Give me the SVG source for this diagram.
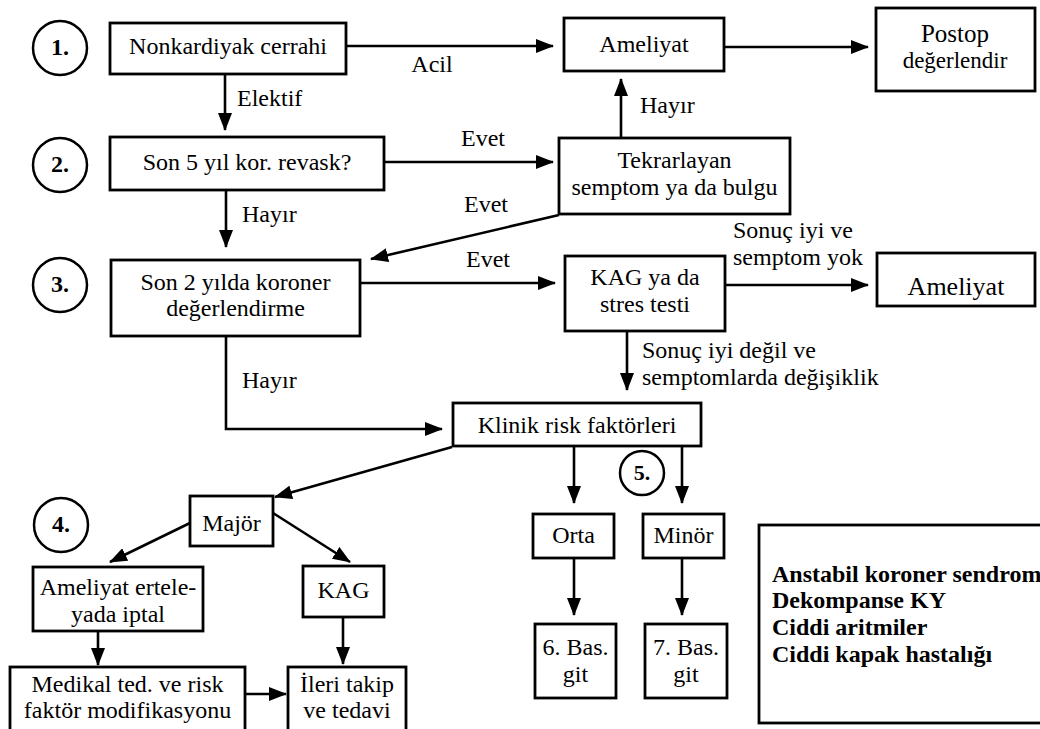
<svg xmlns="http://www.w3.org/2000/svg" width="1040" height="729" viewBox="0 0 1040 729">
<style>
text{font-family:'Liberation Serif','Tinos','Times New Roman',Times,'DejaVu Serif','Noto Serif',serif;font-size:24px;fill:#000}
.c{text-anchor:middle}
.b{font-weight:bold}
.box{fill:#fff;stroke:#000;stroke-width:2.8}
.circ{fill:none;stroke:#000;stroke-width:2.5}
.ln{fill:none;stroke:#000;stroke-width:2.6}
</style>
<defs>
<marker id="ah" markerUnits="userSpaceOnUse" markerWidth="20" markerHeight="14" refX="17" refY="7" orient="auto">
<path d="M0,0 L18,7 L0,14 z" fill="#000"/>
</marker>
</defs>
<rect width="1040" height="729" fill="#fff"/>

<g id="connectors" font-family="Liberation Serif, serif">
<line class="ln" x1="346" y1="46" x2="553" y2="46" marker-end="url(#ah)"/>
<text class="c" x="432" y="72">Acil</text>
<line class="ln" x1="225" y1="74" x2="225" y2="130" marker-end="url(#ah)"/>
<text x="237" y="106">Elektif</text>
<line class="ln" x1="724" y1="47" x2="868" y2="47" marker-end="url(#ah)"/>
<line class="ln" x1="384" y1="162" x2="553" y2="162" marker-end="url(#ah)"/>
<text class="c" x="483" y="146">Evet</text>
<line class="ln" x1="226" y1="190" x2="226" y2="247" marker-end="url(#ah)"/>
<text x="242" y="222">Hayır</text>
<line class="ln" x1="621" y1="138" x2="621" y2="79" marker-end="url(#ah)"/>
<text x="640" y="113">Hayır</text>
<line class="ln" x1="559" y1="215" x2="371" y2="259" marker-end="url(#ah)"/>
<text class="c" x="486" y="212">Evet</text>
<line class="ln" x1="360" y1="283" x2="555" y2="283" marker-end="url(#ah)"/>
<text class="c" x="488" y="267">Evet</text>
<line class="ln" x1="725" y1="285" x2="868" y2="285" marker-end="url(#ah)"/>
<text x="733" y="238">Sonuç iyi ve</text>
<text x="733" y="265">semptom yok</text>
<line class="ln" x1="627" y1="331" x2="627" y2="390" marker-end="url(#ah)"/>
<text x="642" y="358">Sonuç iyi değil ve</text>
<text x="642" y="385">semptomlarda değişiklik</text>
<polyline class="ln" points="226,336 226,429 442,429" marker-end="url(#ah)"/>
<text x="242" y="388">Hayır</text>
<line class="ln" x1="452" y1="447" x2="275" y2="497" marker-end="url(#ah)"/>
<line class="ln" x1="574" y1="446" x2="574" y2="503" marker-end="url(#ah)"/>
<line class="ln" x1="682" y1="446" x2="682" y2="503" marker-end="url(#ah)"/>
<line class="ln" x1="190" y1="523" x2="110" y2="562" marker-end="url(#ah)"/>
<line class="ln" x1="273" y1="513" x2="350" y2="562" marker-end="url(#ah)"/>
<line class="ln" x1="98" y1="631" x2="98" y2="665" marker-end="url(#ah)"/>
<line class="ln" x1="343" y1="617" x2="343" y2="664" marker-end="url(#ah)"/>
<line class="ln" x1="245" y1="694" x2="286" y2="694" marker-end="url(#ah)"/>
<line class="ln" x1="574" y1="558" x2="574" y2="615" marker-end="url(#ah)"/>
<line class="ln" x1="682" y1="558" x2="682" y2="615" marker-end="url(#ah)"/>
</g>

<g id="step1"><circle class="circ" cx="60" cy="48" r="27"/><text class="c b" x="60" y="55">1.</text></g>
<g id="step2"><circle class="circ" cx="60" cy="165" r="27"/><text class="c b" x="60" y="172">2.</text></g>
<g id="step3"><circle class="circ" cx="60" cy="285" r="27"/><text class="c b" x="60" y="292">3.</text></g>
<g id="step4"><circle class="circ" cx="61" cy="525" r="27"/><text class="c b" x="61" y="532">4.</text></g>
<g id="step5"><circle class="circ" cx="642" cy="473" r="22"/><text class="c b" x="642" y="480" style="font-size:22px">5.</text></g>

<g id="nonkardiyak"><rect class="box" x="110" y="23" width="236" height="51"/><text class="c" x="228" y="54">Nonkardiyak cerrahi</text></g>
<g id="revask"><rect class="box" x="110" y="137" width="274" height="53"/><text class="c" x="247" y="170">Son 5 yıl kor. revask?</text></g>
<g id="koroner"><rect class="box" x="111" y="260" width="249" height="76"/><text class="c" x="235.5" y="290">Son 2 yılda koroner</text><text class="c" x="235.5" y="316">değerlendirme</text></g>
<g id="ameliyat1"><rect class="box" x="564" y="18" width="160" height="53"/><text class="c" x="644" y="52">Ameliyat</text></g>
<g id="postop"><rect class="box" x="876" y="8" width="159" height="83"/><text class="c" x="955" y="42" style="font-size:25px">Postop</text><text class="c" x="955" y="68" style="font-size:23px">değerlendir</text></g>
<g id="tekrar"><rect class="box" x="559" y="138" width="231" height="76"/><text class="c" x="674.5" y="168">Tekrarlayan</text><text class="c" x="674.5" y="195">semptom ya da bulgu</text></g>
<g id="kag1"><rect class="box" x="565" y="256" width="160" height="75"/><text class="c" x="645" y="285">KAG ya da</text><text class="c" x="645" y="312">stres testi</text></g>
<g id="ameliyat2"><rect class="box" x="877" y="253" width="158" height="53"/><text class="c" x="956" y="295" style="font-size:26px">Ameliyat</text></g>
<g id="klinik"><rect class="box" x="453" y="403" width="248" height="43"/><text class="c" x="577" y="433">Klinik risk faktörleri</text></g>
<g id="major"><rect class="box" x="190" y="496" width="83" height="50"/><text class="c" x="231.5" y="531">Majör</text></g>
<g id="ertele"><rect class="box" x="33" y="567" width="170" height="64"/><text class="c" x="118" y="595">Ameliyat ertele-</text><text class="c" x="118" y="622">yada iptal</text></g>
<g id="kag2"><rect class="box" x="303" y="566" width="81" height="51"/><text class="c" x="343.5" y="598">KAG</text></g>
<g id="medikal"><rect class="box" x="10" y="667" width="235" height="80"/><text class="c" x="127.5" y="692">Medikal ted. ve risk</text><text class="c" x="127.5" y="718">faktör modifikasyonu</text></g>
<g id="ileri"><rect class="box" x="288" y="667" width="118" height="80"/><text class="c" x="347" y="692">İleri takip</text><text class="c" x="347" y="718">ve tedavi</text></g>
<g id="orta"><rect class="box" x="533" y="514" width="81" height="44"/><text class="c" x="573.5" y="543">Orta</text></g>
<g id="minor"><rect class="box" x="643" y="514" width="81" height="44"/><text class="c" x="683.5" y="543">Minör</text></g>
<g id="bas6"><rect class="box" x="535" y="624" width="81" height="74"/><text class="c" x="575.5" y="655">6. Bas.</text><text class="c" x="575.5" y="682">git</text></g>
<g id="bas7"><rect class="box" x="645" y="624" width="82" height="74"/><text class="c" x="686" y="655">7. Bas.</text><text class="c" x="686" y="682">git</text></g>
<g id="legend"><rect class="box" x="759" y="525" width="320" height="198"/>
<text class="b" x="772" y="582">Anstabil koroner sendrom</text>
<text class="b" x="772" y="608">Dekompanse KY</text>
<text class="b" x="772" y="635">Ciddi aritmiler</text>
<text class="b" x="772" y="662">Ciddi kapak hastalığı</text>
</g>
</svg>
